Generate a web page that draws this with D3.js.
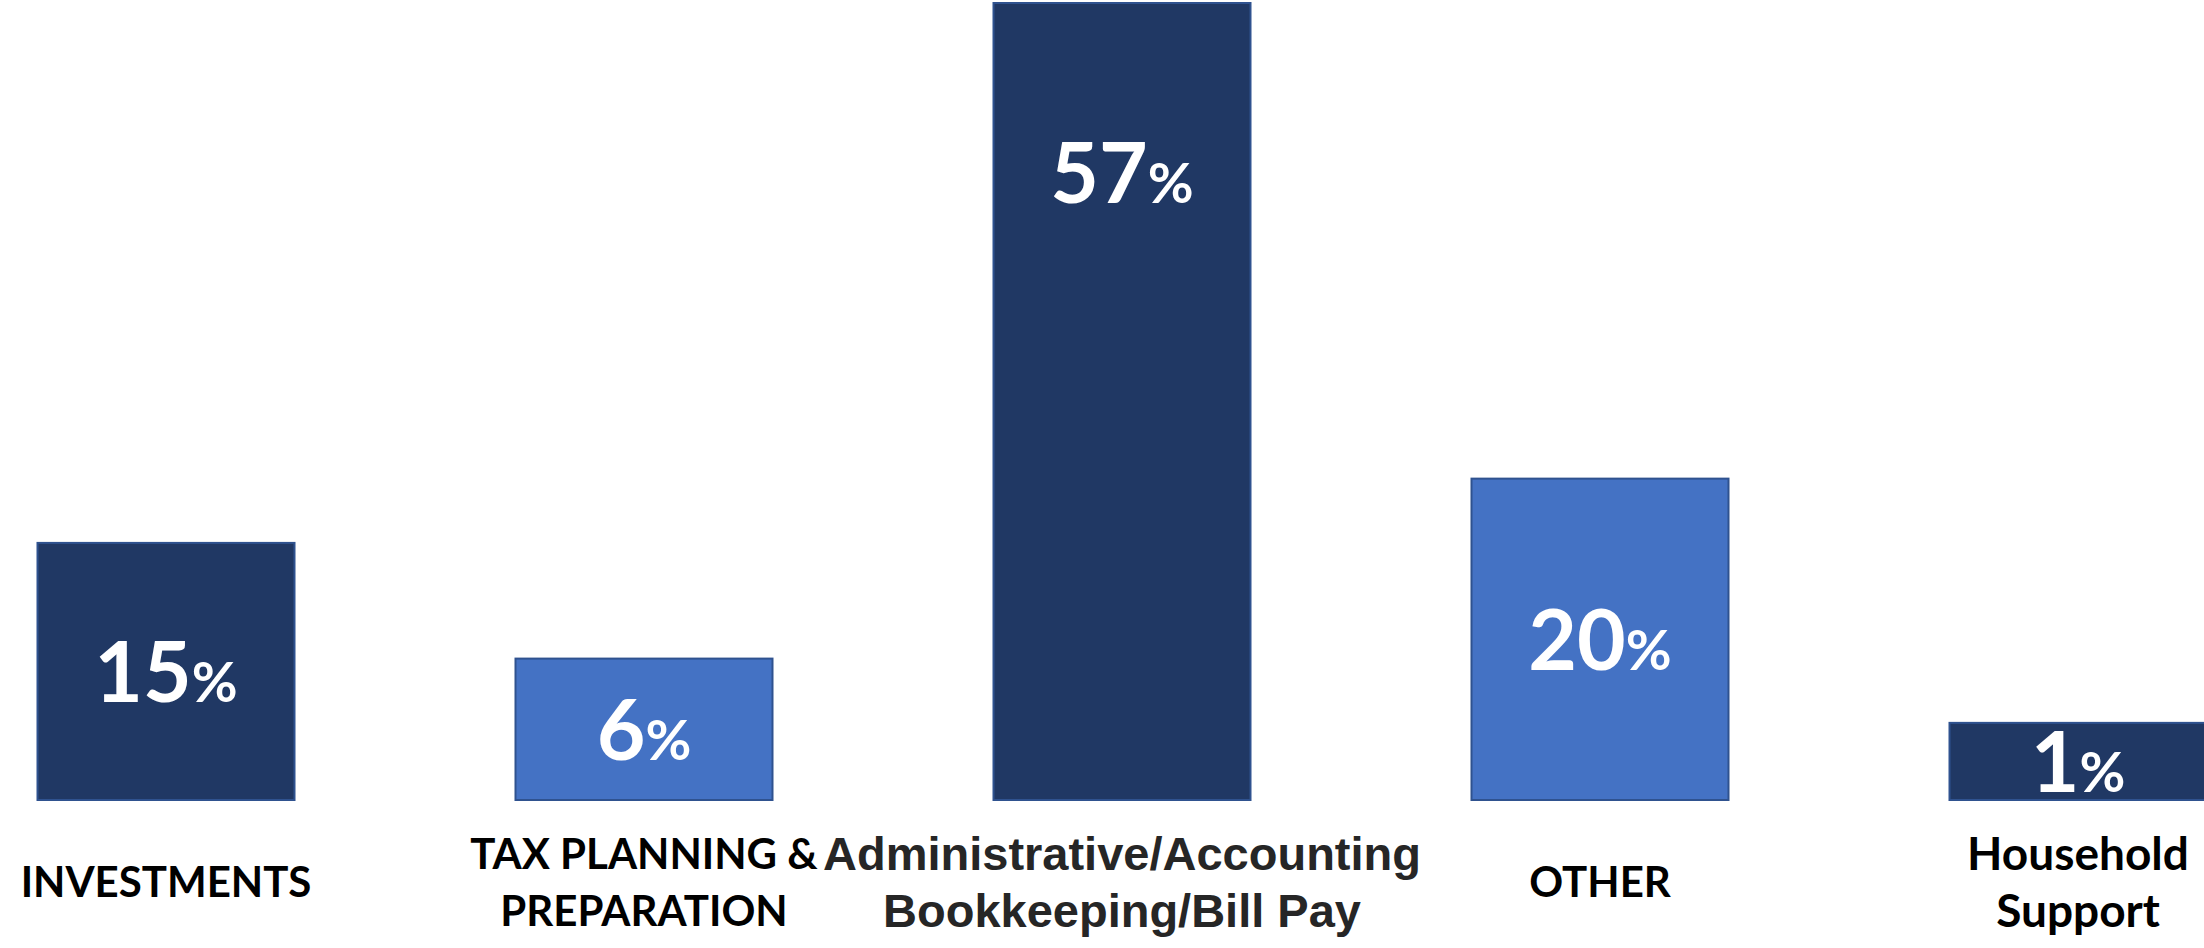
<!DOCTYPE html>
<html>
<head>
<meta charset="utf-8">
<script src="https://cdn.jsdelivr.net/npm/d3@7"></script>
<style>
  html, body { margin: 0; padding: 0; background: #ffffff; }
  svg { display: block; }
</style>
</head>
<body>
<svg id="chart" width="2204" height="948"></svg>
<script>
// ---- data ----
const categories = [
  ["INVESTMENTS"],
  ["TAX PLANNING &", "PREPARATION"],
  ["Administrative/Accounting", "Bookkeeping/Bill Pay"],
  ["OTHER"],
  ["Household", "Support"]
];
const values = [15, 6, 57, 20, 1];
const valueSuffix = "%";

// ---- layout / style ----
const dark = "#203864", light = "#4472C4", outline = "#2F528F";
const barWidth = 257;
const labelCenterY = 882;
const lineGap = 57;

const svg = d3.select("#chart");
const idx = values.map((d, i) => i);

const x = d3.scalePoint().domain(idx).range([166, 2078]);
const y = d3.scaleLinear().domain([-5, 57]).range([800, 3]);

// bars
svg.selectAll("rect.bar")
  .data(idx)
  .join("rect")
  .attr("class", "bar")
  .attr("x", i => x(i) - barWidth / 2)
  .attr("y", i => y(values[i]))
  .attr("width", barWidth)
  .attr("height", i => y(y.domain()[0]) - y(values[i]))
  .attr("fill", i => i % 2 === 0 ? dark : light)
  .attr("stroke", outline)
  .attr("stroke-width", 2);

// value labels
const numSize = 84, pctSize = 56;
const vl = svg.selectAll("text.val")
  .data(idx)
  .join("text")
  .attr("class", "val")
  .attr("text-anchor", "middle")
  .attr("x", i => x(i))
  .attr("y", i => {
    const top = y(values[i]), bottom = y(y.domain()[0]);
    const c = Math.min((top + bottom) / 2, top + 170);
    return c + numSize * 0.36;
  })
  .attr("fill", "#ffffff")
  .attr("font-family", "Lato, 'Open Sans', sans-serif")
  .attr("font-weight", 700);
vl.append("tspan").attr("font-size", numSize).text(i => values[i]);
vl.append("tspan").attr("font-size", pctSize).text(valueSuffix);

// category labels
const catFont = i => i === 2 ? "'Liberation Sans', Arial, sans-serif" : "Lato, 'Open Sans', sans-serif";
const catSize = i => i === 2 ? 47 : (i === 4 ? 46 : 42);
const cl = svg.selectAll("text.cat")
  .data(idx)
  .join("text")
  .attr("class", "cat")
  .attr("text-anchor", "middle")
  .attr("font-weight", 700)
  .attr("font-family", catFont)
  .attr("font-size", catSize)
  .attr("fill", i => i === 2 ? "#262626" : "#000000");

cl.each(function(i) {
  const lines = categories[i];
  const capH = catSize(i) * 0.72;
  const blockH = (lines.length - 1) * lineGap;
  const firstBase = labelCenterY - blockH / 2 + capH / 2;
  d3.select(this).selectAll("tspan")
    .data(lines)
    .join("tspan")
    .attr("x", x(i))
    .attr("y", (d, k) => firstBase + k * lineGap)
    .text(d => d);
});
</script>
</body>
</html>
